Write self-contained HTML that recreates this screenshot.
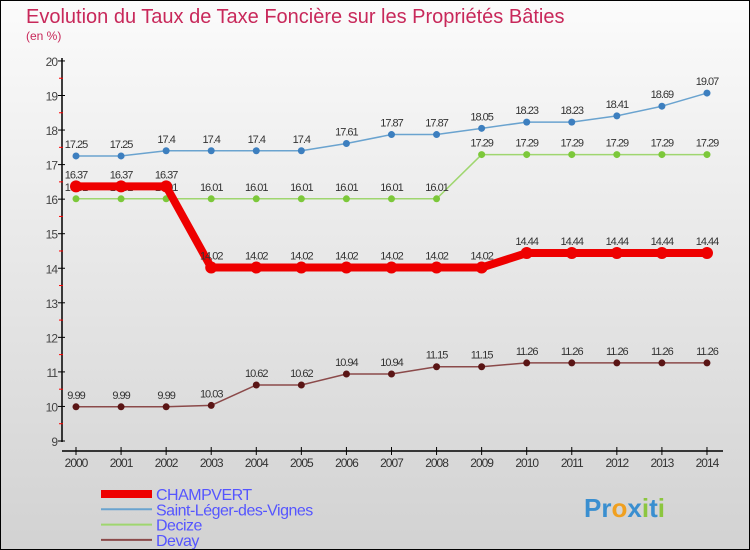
<!DOCTYPE html>
<html><head><meta charset="utf-8"><style>
body{margin:0}
#c{width:748px;height:548px;border:1px solid #000;background:linear-gradient(#fbfbfb,#d2d2d2);position:relative;font-family:"Liberation Sans",sans-serif;overflow:hidden}
svg{position:absolute;left:0;top:0}
</style></head><body>
<div id="c">
<svg id="s" width="748" height="548" viewBox="0 0 748 548">
<text x="25" y="22" font-size="20" fill="#c8285a">Evolution du Taux de Taxe Foncière sur les Propriétés Bâties</text>
<text x="25" y="39" font-size="12" fill="#c8285a">(en %)</text>
</svg></div>
<script>
const years=[2000,2001,2002,2003,2004,2005,2006,2007,2008,2009,2010,2011,2012,2013,2014];
const champvert=[16.37,16.37,16.37,14.02,14.02,14.02,14.02,14.02,14.02,14.02,14.44,14.44,14.44,14.44,14.44];
const saintLeger=[17.25,17.25,17.4,17.4,17.4,17.4,17.61,17.87,17.87,18.05,18.23,18.23,18.41,18.69,19.07];
const decize=[16.01,16.01,16.01,16.01,16.01,16.01,16.01,16.01,16.01,17.29,17.29,17.29,17.29,17.29,17.29];
const devay=[9.99,9.99,9.99,10.03,10.62,10.62,10.94,10.94,11.15,11.15,11.26,11.26,11.26,11.26,11.26];
const yTicks=[9,10,11,12,13,14,15,16,17,18,19,20];
const NS='http://www.w3.org/2000/svg',s=document.getElementById('s');
const X=i=>75+i*45.07, Y=v=>440-(v-9)*34.55;
function mk(t,a,p){const e=document.createElementNS(NS,t);for(const k in a)e.setAttribute(k,a[k]);(p||s).appendChild(e);return e;}
// axes
let ax=mk('line',{x1:61,y1:57,x2:61,y2:441,stroke:'#000','stroke-width':1.5});


let xa=mk('line',{x1:61,y1:450,x2:722,y2:450,stroke:'#000','stroke-width':1.5});


yTicks.forEach(v=>{
 mk('line',{x1:57,y1:Y(v),x2:64,y2:Y(v),stroke:'#000'});
 let t=mk('text',{x:56,y:Y(v)+5,'font-size':12,fill:'#444','text-anchor':'end','letter-spacing':'-1'});t.textContent=v;
 
 
 if(v<20)mk('line',{x1:58,y1:Y(v+0.5),x2:62,y2:Y(v+0.5),stroke:'#f00'});
});
years.forEach((y,i)=>{
 mk('line',{x1:X(i),y1:446,x2:X(i),y2:454,stroke:'#000'});
 let t=mk('text',{x:X(i),y:466,'font-size':12,fill:'#333','text-anchor':'middle','letter-spacing':'-1'});t.textContent=y;
 
 
});
function series(d,col,w,dot,r,name,lab){
 const g=mk('g',{});
 
 
 mk('polyline',{points:d.map((v,i)=>X(i)+','+Y(v)).join(' '),fill:'none',stroke:col,'stroke-width':w,'stroke-linejoin':'round'},g);
 d.forEach((v,i)=>{
  const c=mk('circle',{cx:X(i),cy:Y(v),r:r,fill:dot},g);
  
  
  const t=mk('text',{x:X(i),y:Y(v)-8,'font-size':11,fill:'#333','text-anchor':'middle','letter-spacing':'-1'},g);t.textContent=v;
  
  
 });
}
series(devay,'#8b4a4a',1.5,'#5a1515',3.5,'devay-series');
series(decize,'#9fd66f',1.5,'#7cc83a',3.5,'decize-series');
series(saintLeger,'#6aa3cf',1.5,'#3d7fbf',3.5,'saint-leger-series');
series(champvert,'#ee0000',8,'#ee0000',6,'champvert-series');
// legend
const leg=[['CHAMPVERT','#ee0000',8],['Saint-Léger-des-Vignes','#6aa3cf',2],['Decize','#9fd66f',2],['Devay','#8b4a4a',2]];
leg.forEach((l,i)=>{
 const y=493+i*15.3;
 const g=mk('g',{});
 
 
 mk('line',{x1:100,y1:y,x2:151,y2:y,stroke:l[1],'stroke-width':l[2]},g);
 const t=mk('text',{x:155,y:y+6,'font-size':16,fill:'#5555ff','letter-spacing':'-0.5'},g);t.textContent=l[0];
});
const p=mk('text',{x:583,y:516,'font-size':26,'font-weight':'bold',fill:'#3a8fd0'});
p.innerHTML='<tspan fill="#3a8fd0">Pr</tspan><tspan fill="#f0a020">o</tspan><tspan fill="#3a8fd0">x</tspan><tspan fill="#8cc63f">i</tspan><tspan fill="#3a8fd0">t</tspan><tspan fill="#8cc63f">i</tspan>';


</script>
</body></html>
